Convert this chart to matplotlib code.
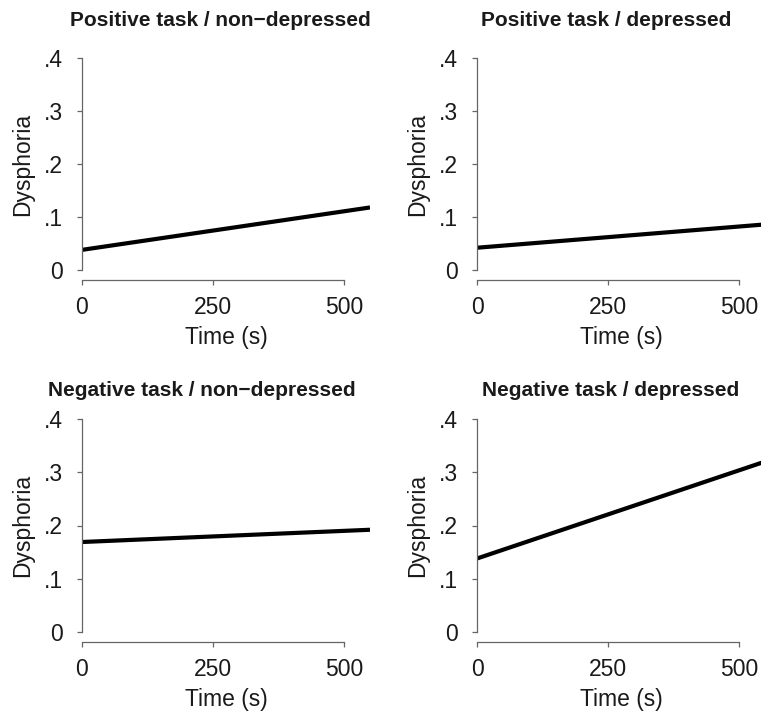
import numpy as np
import matplotlib.pyplot as plt

plt.rcParams['font.family'] = ['Liberation Sans', 'DejaVu Sans']

# panel titles and fitted dysphoria lines (start / end of time window)
titles = ['Positive task / non\u2212depressed', 'Positive task / depressed',
          'Negative task / non\u2212depressed', 'Negative task / depressed']
times = [0, 550]
dysphoria = [[0.038, 0.118],
             [0.042, 0.086],
             [0.169, 0.192],
             [0.138, 0.320]]
xticks = [0, 250, 500]
yticks = [0, 0.1, 0.2, 0.3, 0.4]
yticklabels = ['0', '.1', '.2', '.3', '.4']

W, H = 761, 715
fig = plt.figure(figsize=(W / 100, H / 100), dpi=100)

# axes boxes in pixels: left, top (y=.4), bottom (y=0)
lefts = [82, 477]
rows = [(58, 270), (419, 632)]
title_pads = [23, 16.5]
title_centers = [220, 606, 202, 611]
width = 288
grey = '#666666'
txt = '#1a1a1a'

for i, title in enumerate(titles):
    left = lefts[i % 2]
    top, bot = rows[i // 2]
    ax = fig.add_axes([left / W, (H - bot) / H, width / W, (bot - top) / H])
    ax.plot(times, dysphoria[i], color='black', lw=3, solid_capstyle='butt')
    ax.set_xlim(0, 550)
    ax.set_ylim(0, 0.4)
    for s in ['top', 'right']:
        ax.spines[s].set_visible(False)
    for s in ['left', 'bottom']:
        ax.spines[s].set_color(grey)
        ax.spines[s].set_linewidth(0.9)
    ax.spines['bottom'].set_position(('outward', 7))
    ax.spines['left'].set_bounds(0, 0.4)
    ax.spines['bottom'].set_bounds(0, 500)
    ax.set_xticks(xticks)
    ax.set_xticklabels([str(t) for t in xticks])
    ax.set_yticks(yticks)
    ax.set_yticklabels(yticklabels)
    ax.tick_params(colors=grey, labelcolor=txt, length=3.5, width=0.9,
                   labelsize=16.5)
    ax.tick_params(axis='y', pad=10)
    ax.tick_params(axis='x', pad=8.5)
    ax.set_xlabel('Time (s)', fontsize=16.5, color=txt, labelpad=4.5)
    ax.set_ylabel('Dysphoria', fontsize=16.5, color=txt, labelpad=7)
    ax.set_title(title, fontsize=15, fontweight='bold', pad=title_pads[i // 2],
                 color=txt, x=(title_centers[i] - left) / width)

fig.savefig('out.png', dpi=100)
